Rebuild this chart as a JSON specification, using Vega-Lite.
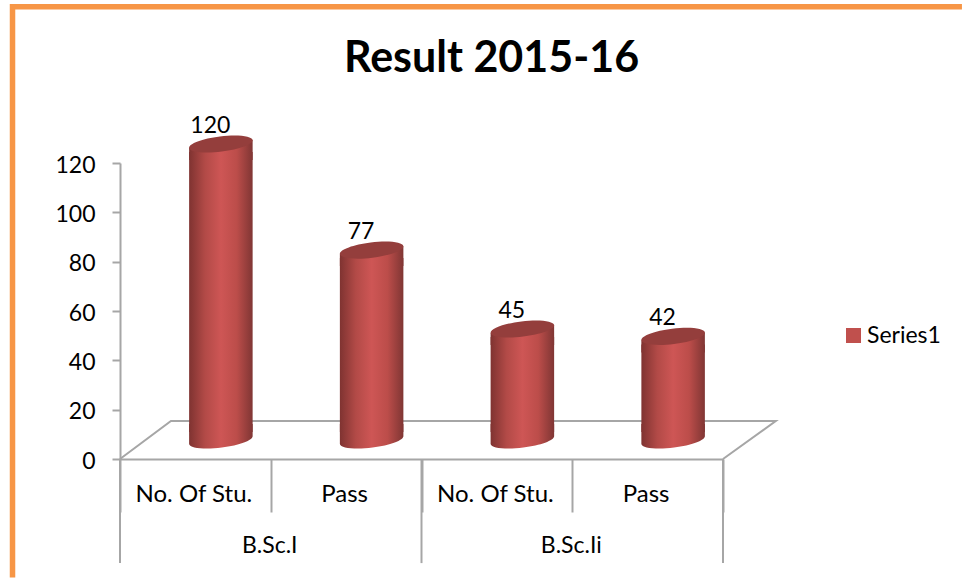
{
"$schema":"https://vega.github.io/schema/vega-lite/v6.json",
"width":603,"height":296,
"autosize":"none",
"padding":{"left":120,"top":163,"right":239,"bottom":119},
"background":"white",
"config":{"view":{"stroke":null}},
"title":{"text":"Result 2015-16","font":"Lato","fontSize":43,"fontWeight":"bold","color":"#000000","anchor":"middle","frame":"group","dx":70,"offset":-85},
"datasets":{
"bars":[
{"key":"B.Sc.I|No. Of Stu.","group":"B.Sc.I","label":"No. Of Stu.","value":120,"series":"Series1"},
{"key":"B.Sc.I|Pass","group":"B.Sc.I","label":"Pass","value":77,"series":"Series1"},
{"key":"B.Sc.Ii|No. Of Stu.","group":"B.Sc.Ii","label":"No. Of Stu.","value":45,"series":"Series1"},
{"key":"B.Sc.Ii|Pass","group":"B.Sc.Ii","label":"Pass","value":42,"series":"Series1"}
],
"floor":[
{"a":0,"b":0,"o":1},{"a":0.338,"b":15.4,"o":2},{"a":4.35,"b":15.4,"o":3},{"a":4,"b":0,"o":4}
],
"frame":[
{"a":-0.713,"b":-48,"o":1},{"a":-0.713,"b":183.3,"o":2},{"a":5.585,"b":183.3,"o":3}
],
"groups":[
{"key":"B.Sc.I|No. Of Stu.","group":"B.Sc.I"},
{"key":"B.Sc.Ii|No. Of Stu.","group":"B.Sc.Ii"}
]
},
"resolve":{"scale":{"x":"independent"}},
"layer":[
{"data":{"name":"frame"},
 "mark":{"type":"line","stroke":"#F79646","strokeWidth":5.5,"strokeCap":"butt","clip":false,"strokeJoin":"miter"},
 "encoding":{"x":{"field":"a","type":"quantitative","scale":{"domain":[0,4],"nice":false,"zero":false},"axis":null},
  "y":{"field":"b","type":"quantitative","scale":{"domain":[0,120],"nice":false},
   "axis":{"title":null,"values":[0,20,40,60,80,100,120],"grid":false,"tickSize":8,"tickWidth":2,"tickColor":"#A6A6A6","domainColor":"#A6A6A6","domainWidth":2,"labelFont":"Lato","labelFontSize":23,"labelColor":"#000000","labelPadding":17,"labelOffset":2}},
  "order":{"field":"o"}}},
{"data":{"name":"floor"},
 "mark":{"type":"line","stroke":"#A6A6A6","strokeWidth":2,"clip":false},
 "encoding":{"x":{"field":"a","type":"quantitative","scale":{"domain":[0,4],"nice":false,"zero":false},"axis":null},
  "y":{"field":"b","type":"quantitative","scale":{"domain":[0,120],"nice":false}},
  "order":{"field":"o"}}},
{"data":{"name":"groups"},
 "mark":{"type":"rule","stroke":"#A6A6A6","strokeWidth":2},
 "encoding":{"x":{"field":"key","type":"nominal","bandPosition":0,"scale":{"type":"band","padding":0,"domain":["B.Sc.I|No. Of Stu.","B.Sc.I|Pass","B.Sc.Ii|No. Of Stu.","B.Sc.Ii|Pass"]},"axis":null},
  "y":{"datum":0,"type":"quantitative","scale":{"domain":[0,120],"nice":false}},"y2":{"datum":-42.2}}},
{"data":{"name":"groups"},
 "transform":[{"filter":"datum.group==='B.Sc.Ii'"}],
 "mark":{"type":"rule","stroke":"#A6A6A6","strokeWidth":2},
 "encoding":{"x":{"field":"key","type":"nominal","bandPosition":2,"scale":{"type":"band","padding":0,"domain":["B.Sc.I|No. Of Stu.","B.Sc.I|Pass","B.Sc.Ii|No. Of Stu.","B.Sc.Ii|Pass"]},"axis":null},
  "y":{"datum":0,"type":"quantitative","scale":{"domain":[0,120],"nice":false}},"y2":{"datum":-42.2}}},
{"data":{"name":"groups"},
 "mark":{"type":"text","font":"Lato","fontSize":23,"color":"#000000","xOffset":-1,"yOffset":87,"baseline":"middle"},
 "encoding":{"x":{"field":"key","type":"nominal","bandPosition":1,"scale":{"type":"band","padding":0,"domain":["B.Sc.I|No. Of Stu.","B.Sc.I|Pass","B.Sc.Ii|No. Of Stu.","B.Sc.Ii|Pass"]},"axis":null},
  "y":{"datum":0,"type":"quantitative","scale":{"domain":[0,120],"nice":false}},
  "text":{"field":"group"}}},
{"data":{"name":"bars"},
 "mark":{"type":"point","filled":true,"opacity":1,"size":4096,"xOffset":25.5,"yOffset":-19,"strokeWidth":0,
  "shape":"M.9925,-.1219 C1.0087,.0097 .5774,.1709 .0292,.2382 C-.5190,.3055 -.9763,.2535 -.9925,.1219 L-.9925,-.5 L.9925,-.5 Z",
  "fill":{"gradient":"linear","x1":0,"x2":1,"y1":0,"y2":0,"stops":[{"offset":0,"color":"#7F3331"},{"offset":0.25,"color":"#B24A47"},{"offset":0.5,"color":"#CE5655"},{"offset":0.75,"color":"#BC4D4A"},{"offset":1,"color":"#803634"}]}},
 "encoding":{"x":{"field":"key","type":"nominal","scale":{"type":"band","padding":0,"domain":["B.Sc.I|No. Of Stu.","B.Sc.I|Pass","B.Sc.Ii|No. Of Stu.","B.Sc.Ii|Pass"]},"axis":null},
  "y":{"datum":0,"type":"quantitative","scale":{"domain":[0,120],"nice":false}}}},
{"data":{"name":"bars"},
 "mark":{"type":"bar","size":63.5,"xOffset":25.5,"yOffset":-11,"y2Offset":-27,
  "fill":{"gradient":"linear","x1":0,"x2":1,"y1":0,"y2":0,"stops":[{"offset":0,"color":"#7F3331"},{"offset":0.25,"color":"#B24A47"},{"offset":0.5,"color":"#CE5655"},{"offset":0.75,"color":"#BC4D4A"},{"offset":1,"color":"#803634"}]}},
 "encoding":{"x":{"field":"key","type":"nominal","scale":{"type":"band","padding":0,"domain":["B.Sc.I|No. Of Stu.","B.Sc.I|Pass","B.Sc.Ii|No. Of Stu.","B.Sc.Ii|Pass"]},
   "axis":{"title":null,"labelExpr":"split(datum.value,'|')[1]","labelAngle":0,"tickBand":"extent","tickSize":53,"tickWidth":2,"tickColor":"#A6A6A6","domainColor":"#A6A6A6","domainWidth":2,"labelFont":"Lato","labelFontSize":24,"labelColor":"#000000","labelPadding":-18,"labelBaseline":"middle","labelOverlap":false,"labelFlush":false,"labelOffset":-2}},
  "y":{"field":"value","type":"quantitative","stack":null,"scale":{"domain":[0,120],"nice":false}},
  "y2":{"datum":0}}},
{"data":{"name":"bars"},
 "mark":{"type":"point","filled":true,"opacity":1,"size":4096,"xOffset":25.5,"yOffset":-19,"strokeWidth":0,
  "shape":"M.9925,-.1219 L.9925,.5 L-.9925,.5 L-.9925,.1219 Z",
  "fill":{"gradient":"linear","x1":0,"x2":1,"y1":0,"y2":0,"stops":[{"offset":0,"color":"#7F3331"},{"offset":0.25,"color":"#B24A47"},{"offset":0.5,"color":"#CE5655"},{"offset":0.75,"color":"#BC4D4A"},{"offset":1,"color":"#803634"}]}},
 "encoding":{"x":{"field":"key","type":"nominal","scale":{"type":"band","padding":0,"domain":["B.Sc.I|No. Of Stu.","B.Sc.I|Pass","B.Sc.Ii|No. Of Stu.","B.Sc.Ii|Pass"]},"axis":null},
  "y":{"field":"value","type":"quantitative","scale":{"domain":[0,120],"nice":false}}}},
{"data":{"name":"bars"},
 "mark":{"type":"point","filled":true,"opacity":1,"size":4096,"xOffset":25.5,"yOffset":-19,"strokeWidth":0,"fill":"#943E3C",
  "shape":"M.9925,-.1219 C1.0087,.0097 .5774,.1709 .0292,.2382 C-.5190,.3055 -.9763,.2535 -.9925,.1219 C-1.0087,-.0097 -.5774,-.1709 -.0292,-.2382 C.5190,-.3055 .9763,-.2535 .9925,-.1219 Z"},
 "encoding":{"x":{"field":"key","type":"nominal","scale":{"type":"band","padding":0,"domain":["B.Sc.I|No. Of Stu.","B.Sc.I|Pass","B.Sc.Ii|No. Of Stu.","B.Sc.Ii|Pass"]},"axis":null},
  "y":{"field":"value","type":"quantitative","scale":{"domain":[0,120],"nice":false}}}},
{"data":{"name":"bars"},
 "mark":{"type":"text","font":"Lato","fontSize":23,"color":"#000000","xOffset":15,"yOffset":-37,"baseline":"middle"},
 "encoding":{"x":{"field":"key","type":"nominal","scale":{"type":"band","padding":0,"domain":["B.Sc.I|No. Of Stu.","B.Sc.I|Pass","B.Sc.Ii|No. Of Stu.","B.Sc.Ii|Pass"]},"axis":null},
  "y":{"field":"value","type":"quantitative","scale":{"domain":[0,120],"nice":false}},
  "text":{"field":"value","type":"quantitative"}}},
{"data":{"name":"bars"},
 "mark":{"type":"bar","size":0,"opacity":0},
 "encoding":{"x":{"field":"key","type":"nominal","scale":{"type":"band","padding":0,"domain":["B.Sc.I|No. Of Stu.","B.Sc.I|Pass","B.Sc.Ii|No. Of Stu.","B.Sc.Ii|Pass"]},"axis":null},
  "y":{"field":"value","type":"quantitative","stack":null,"scale":{"domain":[0,120],"nice":false}},
  "fill":{"field":"series","type":"nominal","scale":{"range":["#C0504D"]},
   "legend":{"title":null,"orient":"none","legendX":722,"legendY":161,"symbolType":"square","symbolSize":225,"symbolOpacity":1,"symbolStrokeWidth":0,"labelFont":"Lato","labelFontSize":23,"labelColor":"#000000","labelOffset":2,"labelOpacity":1}}}}
]
}
